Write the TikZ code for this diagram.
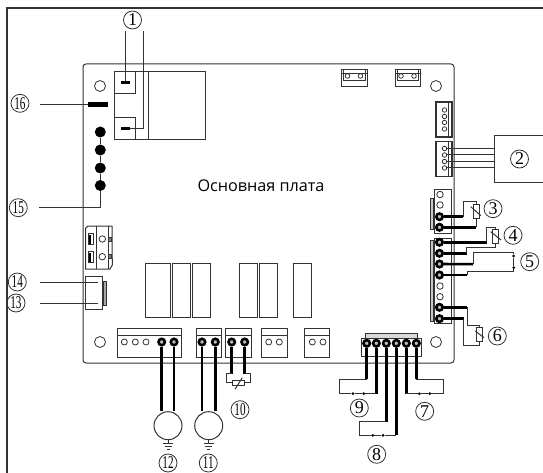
\documentclass[tikz,border=0pt]{standalone}
\usepackage{fontspec}
\setmainfont{Liberation Serif}
\newfontfamily\boardfont{Open Sans}
\usetikzlibrary{positioning}
\definecolor{ink}{HTML}{333333}
\newcommand{\twod}[1]{\scalebox{0.62}[1]{#1}}
\tikzset{
  thinw/.style={draw=ink,line width=1pt},
  thickw/.style={draw=black,line width=2.6pt},
  box/.style={thinw,fill=white},
  openhole/.style={circle,draw=ink,line width=0.8pt,fill=white,inner sep=0pt,minimum size=#1},
  openhole/.default=6pt,
  wirehole/.style={circle,draw=black,line width=2.6pt,fill=gray!50,inner sep=0pt,minimum size=6.4pt},
  numlabel/.style={circle,draw=ink,line width=0.8pt,inner sep=0pt,minimum size=18pt,font=\fontsize{18}{18}\selectfont},
  resistor/.style={rectangle,draw=ink,line width=1pt,fill=white,inner sep=0pt,minimum width=6pt,minimum height=14pt},
  swdot/.style={circle,fill=black,inner sep=0pt,minimum size=3pt},
  bead/.style={circle,fill=black,inner sep=0pt,minimum size=11pt},
  fan/.style={circle,draw=ink,line width=1pt,fill=white,inner sep=0pt,minimum size=28pt},
}
\begin{document}
\begin{tikzpicture}[x=1pt,y=-1pt]
    \useasboundingbox (0,0) rectangle (543,473);
    % frame and board
    \draw[draw=ink,line width=1.8pt] (7,473) -- (7,8) -- (543,8);
    \draw[thinw,rounded corners=3pt] (83,64) rectangle (454,363);
    \node[font=\boardfont\fontsize{16.2}{16.2}\selectfont,text=black] (title) at (261,186) {Основная плата};
    \foreach \n/\x/\y in {tl/100/86,tr/436/86,bl/100/342,br/436/342}
      \node[openhole=11pt] (mount\n) at (\x,\y) {};

    % relay top left
    \draw[thinw] (114.5,72) rectangle (205,140);
    \draw[thinw] (148,72) -- (148,140);
    \draw[thinw] (114.5,72) rectangle (135.5,94);
    \draw[thinw] (114.5,118) rectangle (135.5,140);
    \node[fill=black,minimum width=9pt,minimum height=3pt,inner sep=0pt] (tabA) at (125.5,83) {};
    \node[fill=black,minimum width=9pt,minimum height=3pt,inner sep=0pt] (tabB) at (125.5,129) {};
    \node[numlabel] (n1) at (132.5,20) {1};
    \coordinate (n1a) at (125.5,31);
    \coordinate (n1b) at (143,31);
    \draw[thinw] (n1a) -- (tabA);
    \draw[thinw] (n1b) |- (tabB);

    % leds on the left
    \node[fill=black,minimum width=20.5pt,minimum height=5pt,inner sep=0pt] (bar) at (98.2,104.5) {};
    \node[numlabel] (n16) at (20,103.3) {\twod{16}};
    \coordinate (n16e) at (40,104.5);
    \draw[thinw] (n16e) -- (bar);
    \node[bead] (beadA) at (100.3,132) {};
    \node[bead] (beadB) at (100.3,150) {};
    \node[bead] (beadC) at (100.3,168) {};
    \node[bead] (beadD) at (100.3,185.5) {};
    \node[numlabel] (n15) at (18.3,207.7) {\twod{15}};
    \coordinate (n15e) at (39,207.7);
    \draw[thinw] (beadA) -- (beadB) -- (beadC) -- (beadD);
    \draw[thinw] (beadD) |- (n15e);

    % left connector
    \draw[box] (85.7,228) -- (88,226) -- (112,226) -- (112.3,265) -- (110,269) -- (85.7,269) -- cycle;
    \draw[thinw] (96,226) -- (96,269);
    \draw[thinw] (108,226) -- (108,269);
    \foreach \y in {239,256.7} {
      \draw[thinw,fill=white] (88.3,\y-5.5) rectangle (93.7,\y+5.5);
      \draw[fill=ink] (88.8,\y-3.5) rectangle (90.5,\y+4);
      \node[openhole=6.5pt] at (102.3,\y) {};
      \draw[thinw,fill=gray] (108.3,\y-2) rectangle (111,\y+2);
    }

    % block 13 and 14
    \node[numlabel] (n14) at (17.3,282) {\twod{14}};
    \node[numlabel] (n13) at (16,303) {\twod{13}};
    \draw[box] (85.7,276.7) rectangle (102.3,309);
    \draw[draw=ink,fill=gray!70,line width=0.7pt] (103,281) rectangle (106.3,305);
    \coordinate (n14a) at (40,282);
    \coordinate (n14b) at (97.5,282);
    \coordinate (n13a) at (40,303.3);
    \coordinate (n13b) at (97.5,303.3);
    \draw[thinw] (n14a) -- (n14b);
    \draw[thinw] (n13a) -- (n13b);

    % top connectors
    \foreach \x in {341.5,395} {
      \draw[box] (\x,70) rectangle (\x+25.5,87);
      \draw[thinw] (\x,73.5) -- (\x+25.5,73.5);
      \draw[thinw] (\x+2,70) -- (\x+2,81) -- (\x+23.5,81) -- (\x+23.5,70);
      \node[openhole=4.6pt] at (\x+6,76) {};
      \node[openhole=4.6pt] at (\x+19,76) {};
    }

    % relays
    \foreach \a/\b in {145.3/170.3,172.7/190.7,192.7/210.7,239.7/257.3,259.3/277,293/311.3}
      \draw[thinw] (\a,263.3) rectangle (\b,317.7);

    % terminal blocks
    \foreach \a/\b in {117/181,196/221.7,225.7/251.3,261/287,304.7/329.7} {
      \draw[thinw] (\a,328.7) rectangle (\b,357);
      \draw[thinw] (\a,335) -- (\b,335);
    }
    \foreach \x in {124.3,135.3,146,268.7,279.3,312.3,323}
      \node[openhole] at (\x,342) {};
    \foreach \n/\x in {a/161.7,b/174,c/202,d/215.3,e/231.7,f/244.7}
      \node[wirehole] (t\n) at (\x,342) {};

    % fans 12 and 11
    \node[fan] (fanA) at (168,425.7) {};
    \node[fan] (fanB) at (208.7,425.7) {};
    \draw[thickw] (ta) -- (ta |- fanA.north);
    \draw[thickw] (tb) -- (tb |- fanA.north);
    \draw[thickw] (tc) -- (tc |- fanB.north);
    \draw[thickw] (td) -- (td |- fanB.north);
    \foreach \f in {fanA,fanB} {
      \draw[thinw] (\f.south) -- ++(0,3);
      \draw[thinw] ([shift={(-5,3)}]\f.south) -- ++(10,0);
      \draw[thinw] ([shift={(-3.5,6)}]\f.south) -- ++(7,0);
      \draw[thinw] ([shift={(-1.5,9)}]\f.south) -- ++(3,0);
    }
    \node[numlabel] (n12) at (168,463) {\twod{12}};
    \node[numlabel] (n11) at (208.3,463) {\twod{11}};

    % sensor 10
    \node[resistor,minimum width=12pt,minimum height=5.5pt] (r10) at (238.3,382.8) {};
    \coordinate (w10a) at (231.7,373.7);
    \coordinate (w10b) at (244.7,373.7);
    \draw[thickw] (te) -- (w10a);
    \draw[thickw] (tf) -- (w10b);
    \draw[thinw] (w10a) -- (226.7,373.7) |- (r10);
    \draw[thinw] (w10b) -- (250,373.7) |- (r10);
    \draw[thinw] (235,389.3) -- (242.3,377.7);
    \node[numlabel] (n10) at (240,409.7) {\twod{10}};

    % connectors on the right
    \foreach \y/\e in {102/a,141.5/b} {
      \draw[draw=ink,line width=1.2pt,fill=white] (436,\y) rectangle (452,\y+35);
      \draw[thinw] (448,\y) -- (448,\y+35);
    }
    \foreach \n/\y in {a/110,b/116.5,c/122.5,d/129}
      \node[openhole=4.5pt] (ca\n) at (444.5,\y) {};
    \foreach \n/\y in {a/148.5,b/155,c/161.5,d/168}
      \node[openhole=4.5pt] (cb\n) at (444.5,\y) {};
    \node[draw=ink,line width=1pt,fill=white,minimum width=60pt,minimum height=46.5pt,inner sep=0pt,anchor=north west] (unit) at (493.7,135.5) {};
    \node[numlabel] (n2) at (519.5,159) {2};
    \foreach \n in {a,b,c,d}
      \draw[thinw] (cb\n) -- (cb\n -| unit.west);

    % terminal strips
    \draw[draw=ink,fill=gray!45,line width=0.7pt] (430,198) rectangle (433.7,229);
    \draw[thinw] (434.5,189.5) rectangle (451.5,233);
    \draw[draw=ink,fill=gray!45,line width=0.7pt] (430,240) rectangle (433.7,321);
    \draw[thinw] (434.7,238) rectangle (451,323);
    \node[openhole=6.5pt] at (440,194.5) {};
    \node[openhole=6.5pt] at (440,205) {};
    \node[openhole=6.5pt] at (440,286) {};
    \node[openhole=6.5pt] at (440,296.7) {};
    \foreach \n/\y in {a/216.7,b/227.3,c/242.3,d/253.3,e/264,f/275,g/307.3,h/318.7}
      \node[wirehole] (s\n) at (439.5,\y) {};

    % sensor 3
    \node[resistor] (r3) at (476,211.5) {};
    \coordinate (w3a) at (463,216.7);
    \coordinate (w3b) at (476,227.3);
    \draw[thickw] (sa) -- (w3a);
    \draw[thickw] (sb) -- (w3b);
    \draw[thinw] (w3a) -- (463,201.5) -- (476,201.5) -- (r3.north);
    \draw[thinw] (r3) -- (w3b);
    \draw[thinw] (470.7,206.7) -- (481,215.7);
    \node[numlabel] (n3) at (493,208.7) {3};

    % sensor 4
    \node[resistor] (r4) at (495.8,236.8) {};
    \coordinate (w4a) at (486.7,242.3);
    \coordinate (w4b) at (466.7,253.3);
    \draw[thickw] (sc) -- (w4a);
    \draw[thickw] (sd) -- (w4b);
    \draw[thinw] (w4a) -- (486.7,227) -- (495.8,227) -- (r4.north);
    \draw[thinw] (r4.south) -- (495.8,247) -- (466.7,247) -- (w4b);
    \draw[thinw] (490.7,231.7) -- (501,240);
    \node[numlabel] (n4) at (513,235.3) {4};

    % switch 5
    \node[swdot] (d5a) at (513.7,256) {};
    \node[swdot] (d5b) at (513.7,267.7) {};
    \coordinate (w5a) at (473,264.2);
    \coordinate (w5b) at (467,275);
    \draw[thickw] (se) -- (w5a);
    \draw[thickw] (sf) -- (w5b);
    \draw[thinw] (w5a) -- (473,252.5) -- (513.7,252.5) -- (d5a);
    \draw[thinw] (d5b) -- (513.7,271.7) -- (467,271.7) -- (w5b);
    \draw[thinw] (d5a) -- (d5b);
    \node[numlabel] (n5) at (529.7,261.7) {5};

    % sensor 6
    \node[resistor] (r6) at (479.7,334) {};
    \coordinate (w6a) at (467,307.3);
    \coordinate (w6b) at (463.7,318.7);
    \draw[thickw] (sg) -- (w6a);
    \draw[thickw] (sh) -- (w6b);
    \draw[thinw] (w6a) -- (467,325) -- (479.7,325) -- (r6.north);
    \draw[thinw] (r6.south) -- (479.7,345.3) -- (463.7,345.3) -- (w6b);
    \draw[thinw] (475.3,331) -- (484,337.7);
    \node[numlabel] (n6) at (497.3,336) {6};

    % bottom connector
    \draw[draw=ink,fill=gray!30,line width=0.7pt] (365.3,333.5) rectangle (417.7,338.3);
    \draw[thinw] (361.3,338.3) rectangle (421.3,356.7);
    \foreach \n/\x in {a/366.7,b/376.3,c/386.3,d/396.3,e/406.3,f/416.3}
      \node[wirehole] (b\n) at (\x,343.3) {};

    % switches 9, 8 and 7
    \node[swdot] (d9a) at (353,393.7) {};
    \node[swdot] (d9b) at (363.7,393.7) {};
    \node[swdot] (d8a) at (372.7,435.3) {};
    \node[swdot] (d8b) at (383,435.3) {};
    \node[swdot] (d7a) at (419.3,393.7) {};
    \node[swdot] (d7b) at (429.7,393.7) {};
    \draw[thickw] (ba) -- (366.7,379.3) coordinate (w9a);
    \draw[thickw] (bb) -- (376.3,393.7) coordinate (w9b);
    \draw[thickw] (bc) -- (386.3,421.7) coordinate (w8a);
    \draw[thickw] (bd) -- (396.3,435.3) coordinate (w8b);
    \draw[thickw] (be) -- (406.3,393.7) coordinate (w7a);
    \draw[thickw] (bf) -- (416.3,379.3) coordinate (w7b);
    \draw[thinw] (w9a) -- (339.7,379.3) |- (d9a);
    \draw[thinw] (d9a) -- (d9b) -- (w9b);
    \draw[thinw] (w8a) -- (359.7,421.7) |- (d8a);
    \draw[thinw] (d8a) -- (d8b) -- (w8b);
    \draw[thinw] (w7b) -- (443,379.3) |- (d7b);
    \draw[thinw] (d7b) -- (d7a) -- (w7a);
    \node[numlabel] (n9) at (359.3,408) {9};
    \node[numlabel] (n8) at (376.7,454.3) {8};
    \node[numlabel] (n7) at (424.7,411.3) {7};
  \end{tikzpicture}
\end{document}
